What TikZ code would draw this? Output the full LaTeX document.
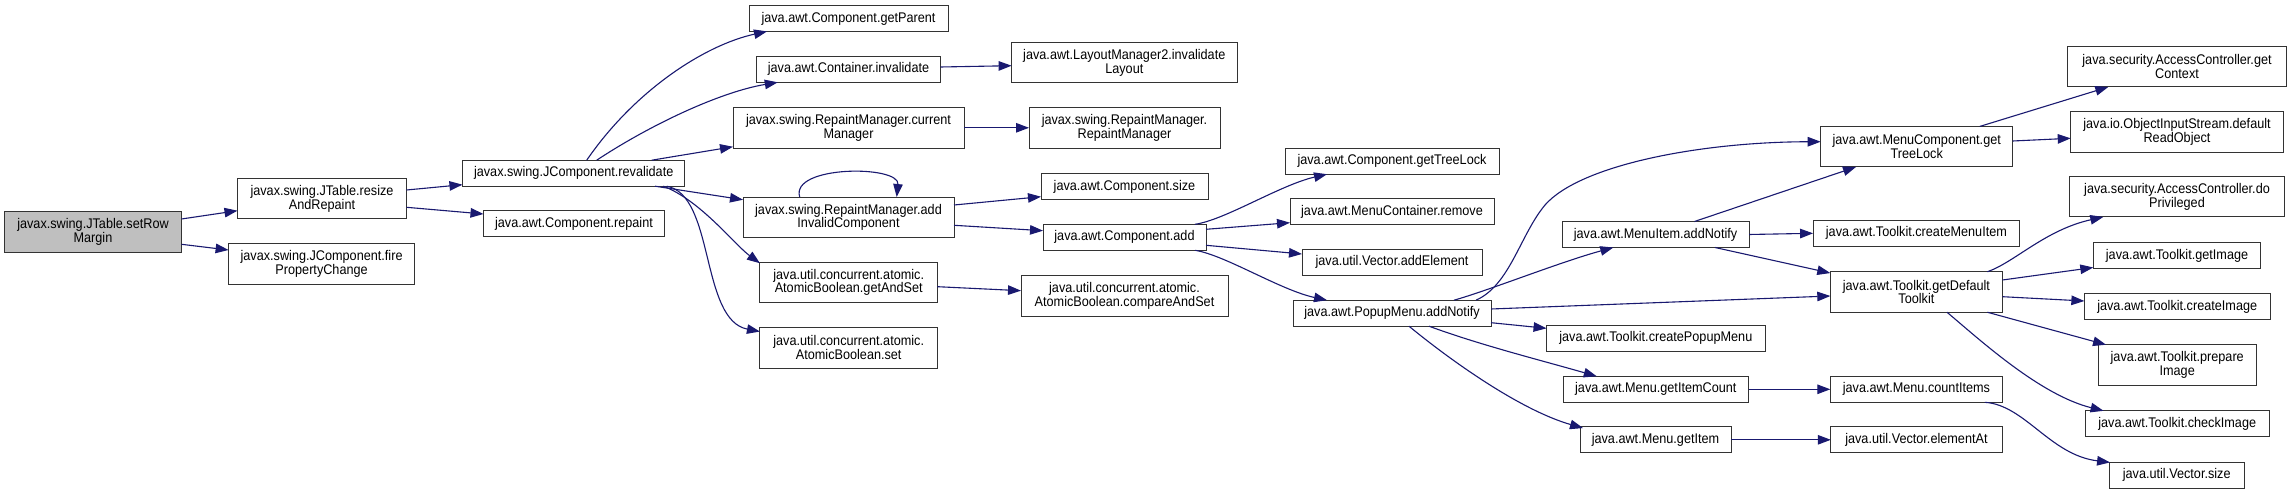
\documentclass[tikz,border=0pt]{standalone}
\usepackage{fontspec}
\setmainfont{Liberation Sans}[FakeStretch=0.905]
\usetikzlibrary{arrows.meta,calc}
\definecolor{edgeblue}{RGB}{25,25,112}
\definecolor{rootgray}{RGB}{191,191,191}
\tikzset{
  box/.style={draw=black!80, line width=1bp, fill=white, inner sep=0pt, outer sep=0pt,
    align=center, font=\fontsize{14bp}{13.7bp}\selectfont},
  one/.style={minimum height=26bp},
  two/.style={minimum height=40.5bp},
  conn/.style={draw=edgeblue, line width=1.1bp, -{Triangle[length=13bp,width=9.5bp]}}
}
\begin{document}
\begin{tikzpicture}[x=1bp,y=-1bp]
\useasboundingbox[fill=white] (0,0) rectangle (2292,493);
% column 0
\node[box,two,fill=rootgray,minimum width=177bp] (root) at (93,232) {javax.swing.JTable.setRow\\Margin};
% column 1
\node[box,two,minimum width=169bp] (resize) at (322,198.7) {javax.swing.JTable.resize\\AndRepaint};
\node[box,two,minimum width=186bp] (fire) at (321.6,264) {javax.swing.JComponent.fire\\PropertyChange};
% column 2
\node[box,one,minimum width=222.5bp] (reval) at (573.7,173.2) {javax.swing.JComponent.revalidate};
\node[box,one,minimum width=181bp] (repaint) at (574,223.7) {java.awt.Component.repaint};
% column 3
\node[box,one,minimum width=199bp] (getParent) at (848.5,18.4) {java.awt.Component.getParent};
\node[box,one,minimum width=184bp] (cinval) at (848.5,69.3) {java.awt.Container.invalidate};
\node[box,two,minimum width=231bp] (curMgr) at (848.5,127.8) {javax.swing.RepaintManager.current\\Manager};
\node[box,two,minimum width=211bp] (addInv) at (848.5,217.3) {javax.swing.RepaintManager.add\\InvalidComponent};
\node[box,two,minimum width=177.5bp] (getAndSet) at (848.7,282.5) {java.util.concurrent.atomic.\\AtomicBoolean.getAndSet};
\node[box,two,minimum width=177.5bp] (abSet) at (848.7,347.8) {java.util.concurrent.atomic.\\AtomicBoolean.set};
% column 4
\node[box,two,minimum width=225.4bp] (invLayout) at (1124.3,62.7) {java.awt.LayoutManager2.invalidate\\Layout};
\node[box,two,minimum width=191bp] (rmCtor) at (1124.5,127.8) {javax.swing.RepaintManager.\\RepaintManager};
\node[box,one,minimum width=167bp] (csize) at (1124.5,186.5) {java.awt.Component.size};
\node[box,one,minimum width=163bp] (cadd) at (1124.5,237.3) {java.awt.Component.add};
\node[box,two,minimum width=207bp] (cas) at (1124.5,295.8) {java.util.concurrent.atomic.\\AtomicBoolean.compareAndSet};
% column 5
\node[box,one,minimum width=214bp] (ctree) at (1392,161.2) {java.awt.Component.getTreeLock};
\node[box,one,minimum width=204bp] (mcremove) at (1392,211.8) {java.awt.MenuContainer.remove};
\node[box,one,minimum width=180bp] (addElem) at (1392,262.3) {java.util.Vector.addElement};
\node[box,one,minimum width=198bp] (popup) at (1392,313.2) {java.awt.PopupMenu.addNotify};
% column 6
\node[box,one,minimum width=187bp] (miadd) at (1655.5,234.5) {java.awt.MenuItem.addNotify};
\node[box,one,minimum width=218.5bp] (cpopup) at (1655.8,338.3) {java.awt.Toolkit.createPopupMenu};
\node[box,one,minimum width=185.5bp] (itemCount) at (1655.8,389.3) {java.awt.Menu.getItemCount};
\node[box,one,minimum width=151bp] (getItem) at (1655.5,439.8) {java.awt.Menu.getItem};
% column 7
\node[box,two,minimum width=192bp] (mctree) at (1916.7,146.7) {java.awt.MenuComponent.get\\TreeLock};
\node[box,one,minimum width=206.7bp] (cmenuitem) at (1916.4,233.3) {java.awt.Toolkit.createMenuItem};
\node[box,two,minimum width=172.2bp] (deftk) at (1916.4,292) {java.awt.Toolkit.getDefault\\Toolkit};
\node[box,one,minimum width=172.2bp] (countItems) at (1916.4,389.3) {java.awt.Menu.countItems};
\node[box,one,minimum width=171.2bp] (elementAt) at (1916.4,439.8) {java.util.Vector.elementAt};
% column 8
\node[box,two,minimum width=219.4bp] (getContext) at (2177,66.7) {java.security.AccessController.get\\Context};
\node[box,two,minimum width=212.6bp] (readObj) at (2177,131.8) {java.io.ObjectInputStream.default\\ReadObject};
\node[box,two,minimum width=215.4bp] (doPriv) at (2177,196.7) {java.security.AccessController.do\\Privileged};
\node[box,one,minimum width=167.4bp] (getImage) at (2177,255.5) {java.awt.Toolkit.getImage};
\node[box,one,minimum width=185.7bp] (createImage) at (2177.2,306.7) {java.awt.Toolkit.createImage};
\node[box,two,minimum width=157.7bp] (prepImage) at (2177.2,365) {java.awt.Toolkit.prepare\\Image};
\node[box,one,minimum width=184.3bp] (checkImage) at (2177.2,423.8) {java.awt.Toolkit.checkImage};
\node[box,one,minimum width=134.7bp] (vsize) at (2176.7,475) {java.util.Vector.size};

% ---- connectors ----
\draw[conn] ($(root.east)+(0,-13)$) -- ($(resize.west)+(0,12)$);
\draw[conn] ($(root.east)+(0,12.3)$) -- ($(fire.west)+(0,-14)$);
\draw[conn] ($(resize.east)+(0,-8.7)$) -- ($(reval.west)+(0,11.5)$);
\draw[conn] ($(resize.east)+(0,8.6)$) -- ($(repaint.west)+(0,-9.7)$);

\draw[conn] ($(reval.north)+(13,0)$) .. controls (635,90) and (705,45) .. ($(getParent.south west)+(18,0)$);
\draw[conn] ($(reval.north)+(23,0)$) .. controls (650,125) and (720,92) .. ($(cinval.south west)+(21.3,0)$);
\draw[conn] ($(reval.north)+(78,0)$) -- ($(curMgr.south west)+(0,-1.3)$);
\draw[conn] ($(reval.south)+(81.3,0)$) -- ($(addInv.north west)+(0,2.7)$);
\draw[conn] ($(reval.south)+(89.6,0)$) .. controls (700,200) and (735,245) .. ($(getAndSet.north west)+(0,1)$);
\draw[conn] ($(reval.south)+(93,0)$) .. controls (715,195) and (700,320) .. ($(abSet.north west)+(0,4)$);

\draw[conn] ($(cinval.east)+(0,-2.3)$) -- ($(invLayout.west)+(0,3)$);
\draw[conn] (curMgr.east) -- (rmCtor.west);
\draw[conn] ($(addInv.north)+(-48.8,0)$) .. controls (790,165) and (900,165) .. ($(addInv.north)+(48.2,0)$);
\draw[conn] ($(addInv.east)+(0,-12.3)$) -- ($(csize.west)+(0,10.2)$);
\draw[conn] ($(addInv.east)+(0,8)$) -- ($(cadd.west)+(0,-6.6)$);
\draw[conn] ($(getAndSet.east)+(0,4.2)$) -- ($(cas.west)+(0,-5.1)$);

\draw[conn] ($(cadd.north)+(70.5,0)$) .. controls (1225,220) and (1280,185) .. ($(ctree.south west)+(42,0)$);
\draw[conn] ($(cadd.east)+(0,-8)$) -- ($(mcremove.west)+(0,10.9)$);
\draw[conn] ($(cadd.east)+(0,8)$) -- ($(addElem.west)+(0,-8.3)$);
\draw[conn] ($(cadd.south)+(70.5,0)$) .. controls (1225,255) and (1280,290) .. ($(popup.north west)+(34,0)$);

\draw[conn] ($(popup.north)+(84,0)$) .. controls (1510,285) and (1520,235) .. (1545,205)
   .. controls (1580,165) and (1700,142) .. ($(mctree.west)+(0,-5)$);
\draw[conn] ($(popup.north)+(62,0)$) .. controls (1490,290) and (1560,262) .. ($(miadd.south west)+(51.3,0)$);
\draw[conn] ($(popup.east)+(0,-4.2)$) -- ($(deftk.west)+(0,4)$);
\draw[conn] ($(popup.east)+(0,9.5)$) -- ($(cpopup.west)+(0,-10)$);
\draw[conn] ($(popup.south)+(37,0)$) .. controls (1480,345) and (1540,360) .. ($(itemCount.north west)+(33.7,0)$);
\draw[conn] ($(popup.south)+(17,0)$) .. controls (1450,360) and (1520,410) .. ($(getItem.north west)+(3,1.3)$);

\draw[conn] ($(miadd.north)+(39,0)$) -- ($(mctree.south west)+(35.3,0)$);
\draw[conn] (miadd.east) -- (cmenuitem.west);
\draw[conn] ($(miadd.south)+(59.5,0)$) -- ($(deftk.north west)+(0,1.3)$);

\draw[conn] ($(mctree.north)+(63,0)$) -- ($(getContext.south west)+(41,0)$);
\draw[conn] ($(mctree.east)+(0,-5.7)$) -- ($(readObj.west)+(0,6.5)$);

\draw[conn] ($(deftk.north)+(71,0)$) .. controls (2015,262) and (2045,230) .. ($(doPriv.south west)+(34,0)$);
\draw[conn] ($(deftk.east)+(0,-12)$) -- ($(getImage.south west)+(0,-1)$);
\draw[conn] ($(deftk.east)+(0,4.7)$) -- ($(createImage.west)+(0,-5.7)$);
\draw[conn] ($(deftk.south)+(71,0)$) -- ($(prepImage.north west)+(7.7,0)$);
\draw[conn] ($(deftk.south)+(30.6,0)$) .. controls (1980,340) and (2040,395) .. ($(checkImage.north west)+(18.5,0)$);

\draw[conn] (itemCount.east) -- (countItems.west);
\draw[conn] ($(countItems.south)+(68.4,0)$) .. controls (2025,405) and (2050,455) .. ($(vsize.north west)+(0.7,0.4)$);
\draw[conn] (getItem.east) -- (elementAt.west);
\end{tikzpicture}
\end{document}
